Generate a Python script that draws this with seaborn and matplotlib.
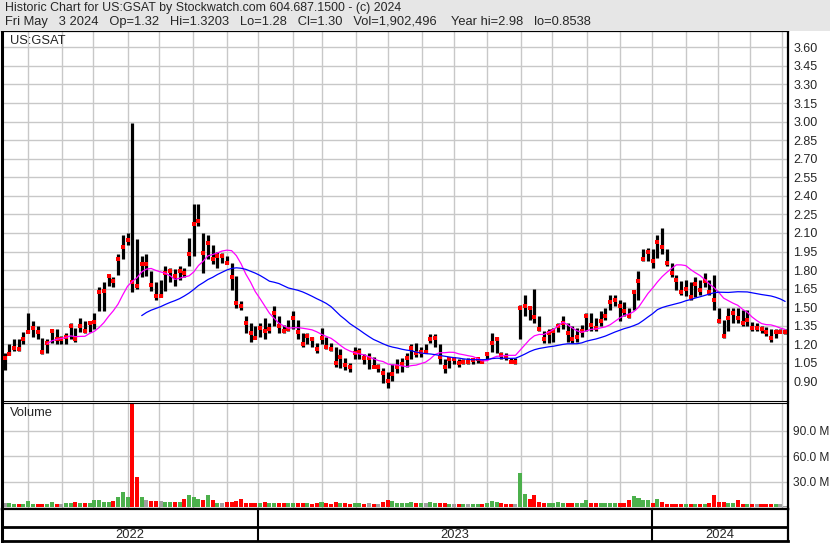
import matplotlib
matplotlib.use("Agg")
import matplotlib.pyplot as plt
from matplotlib.patches import Rectangle
import numpy as np
import pandas as pd
import seaborn as sns

# 3-trading-day bars, May 2022 .. May 3 2024 (prices in US$)
highs = [
    1.13, 1.20, 1.24, 1.24, 1.30, 1.45, 1.39, 1.35, 1.25, 1.24,
    1.32, 1.32, 1.27, 1.29, 1.37, 1.33, 1.41, 1.39, 1.39, 1.45,
    1.66, 1.70, 1.76, 1.74, 1.93, 2.08, 2.10, 2.99, 2.05, 1.91,
    1.93, 1.79, 1.70, 1.72, 1.83, 1.82, 1.81, 1.83, 1.82, 2.06,
    2.33, 2.33, 2.10, 2.08, 2.00, 1.95, 1.94, 1.91, 1.86, 1.75,
    1.55, 1.43, 1.37, 1.35, 1.37, 1.41, 1.37, 1.51, 1.43, 1.36,
    1.40, 1.47, 1.40, 1.29, 1.29, 1.26, 1.21, 1.33, 1.26, 1.21,
    1.18, 1.16, 1.09, 1.05, 1.18, 1.17, 1.12, 1.13, 1.10, 1.04,
    1.01, 0.98, 1.04, 1.08, 1.09, 1.13, 1.20, 1.21, 1.18, 1.20,
    1.28, 1.28, 1.20, 1.08, 1.09, 1.09, 1.08, 1.08, 1.09, 1.09,
    1.09, 1.08, 1.14, 1.29, 1.26, 1.14, 1.13, 1.09, 1.09, 1.52,
    1.60, 1.51, 1.65, 1.43, 1.31, 1.32, 1.33, 1.37, 1.43, 1.37,
    1.35, 1.33, 1.36, 1.45, 1.45, 1.41, 1.47, 1.49, 1.60, 1.60,
    1.56, 1.54, 1.49, 1.64, 1.79, 1.97, 1.98, 1.97, 2.08, 2.14,
    1.97, 1.86, 1.76, 1.71, 1.72, 1.70, 1.74, 1.72, 1.78, 1.72,
    1.76, 1.49, 1.40, 1.49, 1.49, 1.49, 1.48, 1.48, 1.38, 1.37,
    1.35, 1.34, 1.32, 1.32, 1.32, 1.3203,
]
lows = [
    0.99, 1.11, 1.15, 1.15, 1.20, 1.29, 1.26, 1.24, 1.12, 1.13,
    1.21, 1.20, 1.20, 1.20, 1.24, 1.22, 1.30, 1.29, 1.30, 1.32,
    1.47, 1.47, 1.67, 1.66, 1.76, 1.89, 2.00, 1.62, 1.65, 1.74,
    1.75, 1.63, 1.56, 1.58, 1.63, 1.70, 1.67, 1.72, 1.74, 1.83,
    1.91, 2.16, 1.78, 1.89, 1.85, 1.82, 1.86, 1.85, 1.64, 1.49,
    1.48, 1.29, 1.22, 1.24, 1.26, 1.24, 1.29, 1.35, 1.29, 1.29,
    1.31, 1.32, 1.24, 1.18, 1.20, 1.18, 1.13, 1.20, 1.16, 1.15,
    1.02, 1.01, 0.99, 0.98, 1.08, 1.08, 1.04, 1.00, 1.01, 0.98,
    0.89, 0.85, 0.90, 0.97, 0.98, 1.02, 1.08, 1.10, 1.10, 1.13,
    1.21, 1.18, 1.04, 0.97, 1.01, 1.04, 1.02, 1.04, 1.04, 1.04,
    1.05, 1.05, 1.08, 1.14, 1.13, 1.08, 1.07, 1.05, 1.04, 1.24,
    1.43, 1.40, 1.37, 1.31, 1.21, 1.21, 1.22, 1.30, 1.32, 1.22,
    1.21, 1.22, 1.26, 1.31, 1.31, 1.31, 1.35, 1.40, 1.48, 1.51,
    1.39, 1.43, 1.41, 1.48, 1.56, 1.87, 1.87, 1.82, 1.90, 1.93,
    1.83, 1.74, 1.64, 1.60, 1.59, 1.56, 1.58, 1.60, 1.66, 1.60,
    1.48, 1.37, 1.25, 1.31, 1.37, 1.37, 1.35, 1.35, 1.31, 1.31,
    1.29, 1.27, 1.22, 1.25, 1.29, 1.28,
]
closes = [
    1.09, 1.12, 1.17, 1.16, 1.24, 1.30, 1.33, 1.30, 1.14, 1.21,
    1.31, 1.24, 1.24, 1.26, 1.35, 1.24, 1.35, 1.31, 1.37, 1.38,
    1.62, 1.63, 1.75, 1.71, 1.89, 1.99, 2.04, 1.70, 1.67, 1.85,
    1.85, 1.68, 1.59, 1.59, 1.78, 1.79, 1.75, 1.79, 1.78, 1.93,
    2.17, 2.20, 1.94, 2.02, 1.89, 1.91, 1.91, 1.86, 1.74, 1.53,
    1.51, 1.37, 1.29, 1.25, 1.33, 1.31, 1.32, 1.45, 1.35, 1.31,
    1.32, 1.41, 1.30, 1.20, 1.27, 1.24, 1.16, 1.25, 1.18, 1.16,
    1.05, 1.10, 1.03, 1.02, 1.13, 1.14, 1.09, 1.09, 1.02, 1.02,
    0.97, 0.90, 0.96, 1.02, 1.04, 1.09, 1.17, 1.13, 1.14, 1.14,
    1.24, 1.25, 1.10, 1.02, 1.08, 1.08, 1.05, 1.06, 1.06, 1.07,
    1.08, 1.06, 1.12, 1.21, 1.24, 1.11, 1.10, 1.06, 1.06, 1.49,
    1.51, 1.49, 1.42, 1.32, 1.24, 1.29, 1.31, 1.35, 1.37, 1.29,
    1.24, 1.26, 1.31, 1.43, 1.36, 1.33, 1.39, 1.43, 1.54, 1.56,
    1.51, 1.47, 1.43, 1.62, 1.71, 1.89, 1.95, 1.87, 2.03, 1.99,
    1.86, 1.78, 1.72, 1.62, 1.65, 1.58, 1.69, 1.64, 1.71, 1.62,
    1.56, 1.39, 1.27, 1.41, 1.45, 1.41, 1.37, 1.40, 1.33, 1.33,
    1.32, 1.30, 1.25, 1.30, 1.30, 1.30,
]
# average daily volume per bar, millions of shares
volumes = [
    5, 5, 4, 4, 4, 7, 3.5, 3.5, 3.5, 3.5,
    6, 3.5, 3.5, 5, 5, 6, 4.5, 4.5, 4.5, 9,
    8, 6, 6, 7, 12, 18, 12, 125, 35, 12,
    8.5, 7, 7, 7, 6.5, 6, 6, 6, 10, 15,
    12, 10, 8.5, 14, 9, 5.5, 5.5, 6.5, 6.5, 7,
    10, 4.5, 4.5, 4.5, 5.5, 6.5, 4.5, 4.5, 4.5, 4.5,
    5, 4.5, 4.5, 5, 4.5, 4, 5, 6, 4.5, 4,
    6, 5, 4.5, 4, 5.5, 5, 4, 4.5, 4, 4,
    6, 8, 7, 5, 5, 5.5, 6, 5, 4.5, 4.5,
    6, 5, 5, 4.5, 4, 3.5, 3.5, 3.5, 3.5, 3.5,
    3.5, 3.5, 4.5, 7, 6, 4.5, 3.5, 3.5, 3.5, 40,
    16, 10, 14, 6, 4.5, 4.5, 4.5, 6, 4.5, 4.5,
    4.5, 4.5, 4.5, 9, 4.5, 4.5, 4.5, 4.5, 4.5, 4.5,
    4.5, 4.5, 9, 13, 11, 9, 8, 4.5, 10, 6,
    4, 4, 4, 4, 4, 4, 4, 4, 4, 5,
    15, 6, 6, 5, 5, 9, 4, 4, 4, 4,
    3.5, 3.5, 3.5, 3.5, 3.5, 1.9,
]

# month boundaries and year starts, in bar units
month_lines = [5.0, 12.2, 18.8, 26.0, 32.7, 39.9, 47.0, 53.5, 60.9, 67.2,
               74.3, 81.0, 88.3, 94.9, 101.9, 109.2, 115.7, 123.1, 130.0,
               136.8, 144.0, 150.8, 157.5, 164.3]
year_labels = ["2022", "2023", "2024"]
year_starts = [53.5, 136.8]

header1 = "Historic Chart for US:GSAT by Stockwatch.com 604.687.1500 - (c) 2024"
header2 = ("Fri May   3 2024   Op=1.32   Hi=1.3203   Lo=1.28   Cl=1.30   "
           "Vol=1,902,496    Year hi=2.98   lo=0.8538")

df = pd.DataFrame({"bar": np.arange(len(closes)), "high": highs, "low": lows,
                   "close": closes, "volume": volumes})
df["ma30"] = df["close"].rolling(10).mean()
df["ma90"] = df["close"].rolling(30).mean()
chg = df["close"].diff().fillna(0)
df["dir"] = np.where(chg > 0, "up", np.where(chg < 0, "down", "flat"))

sns.set_style("white")
plt.rcParams["font.family"] = ["Liberation Sans", "DejaVu Sans"]

W, H = 830, 543
fig = plt.figure(figsize=(W / 100, H / 100), dpi=100)


def rect(x0, y0, x1, y1):
    return [x0 / W, 1 - y1 / H, (x1 - x0) / W, (y1 - y0) / H]


fig.patches.append(Rectangle((0, 1 - 31 / H), 1, 31 / H, transform=fig.transFigure,
                             facecolor="#E6E6E6", edgecolor="none", zorder=0))
fig.text(5 / W, 1 - 8 / H, header1, fontsize=8.9, va="center", ha="left")
fig.text(5 / W, 1 - 22 / H, header2, fontsize=9.3, va="center", ha="left")

xlim = (-0.53, 165.6)
grid_kw = dict(color="#C8C8C8", lw=1.0)

# price panel
ax = fig.add_axes(rect(2, 31, 788, 400.5))
ax.set_xlim(*xlim)
ax.set_ylim(0.746, 3.732)
ax.set_xticks(month_lines)
ax.set_xticklabels([])
ax.set_yticks(np.round(np.arange(0.90, 3.61, 0.15), 2))
ax.yaxis.tick_right()
ax.set_yticklabels([f"{v:.2f}" for v in ax.get_yticks()], fontsize=9)
ax.tick_params(length=0, pad=4)
ax.grid(True, **grid_kw)
ax.set_axisbelow(True)
ax.vlines(df["bar"], df["low"], df["high"], color="black", lw=2.3, zorder=3)
sns.scatterplot(data=df, x="bar", y="close", color="red", marker="s", s=5,
                linewidth=0, ax=ax, zorder=4)
sns.lineplot(data=df, x="bar", y="ma30", color="#FF00FF", lw=0.9, ax=ax, zorder=5)
sns.lineplot(data=df, x="bar", y="ma90", color="#0000FF", lw=0.9, ax=ax, zorder=5)
ax.set_xlabel("")
ax.set_ylabel("")
ax.text(8 / 786, 1 - 10 / 369.5, "US:GSAT", transform=ax.transAxes,
        fontsize=9.3, va="center", ha="left")

# volume panel
axv = fig.add_axes(rect(2, 402.5, 788, 509))
sns.barplot(data=df, x="bar", y="volume", hue="dir", native_scale=True,
            dodge=False, width=0.85, errorbar=None, legend=False, saturation=1,
            palette={"up": "#4CB04C", "down": "#FF0000", "flat": "#A0A0A0"},
            linewidth=0, ax=axv)
axv.set_xlim(*xlim)
axv.set_ylim(-2, 123)
axv.set_xticks(month_lines)
axv.set_xticklabels([])
axv.set_yticks([30, 60, 90])
axv.yaxis.tick_right()
axv.set_yticklabels(["30.0 M", "60.0 M", "90.0 M"], fontsize=8.6)
axv.tick_params(length=0, pad=3.5)
axv.grid(True, **grid_kw)
axv.set_axisbelow(True)
axv.set_xlabel("")
axv.set_ylabel("")
axv.text(8 / 786, 1 - 11 / 106.5, "Volume", transform=axv.transAxes,
         fontsize=9.3, va="center", ha="left")

# year strip
axt = fig.add_axes(rect(2, 509, 788, 541))
axt.set_xlim(*xlim)
axt.set_ylim(0, 1)
axt.set_xticks([])
axt.set_yticks([])
axt.axhline(14.5 / 32, color="black", lw=2)
axt.vlines(year_starts, 0, 1, color="black", lw=1.5)
bounds = [xlim[0]] + year_starts + [xlim[1]]
for lab, a, b in zip(year_labels, bounds[:-1], bounds[1:]):
    axt.text((a + b) / 2, 0.2, lab, ha="center", va="center", fontsize=9.3)

for a, lw in ((ax, (2.2, 1.6, 1.6, 0.8)), (axv, (2.2, 1.6, 0.8, 1.6)),
              (axt, (2.2, 1.6, 1.6, 2.0))):
    a.spines["left"].set_linewidth(lw[0])
    a.spines["right"].set_linewidth(lw[1])
    a.spines["top"].set_linewidth(lw[2])
    a.spines["bottom"].set_linewidth(lw[3])
    for s in a.spines.values():
        s.set_color("black")
        s.set_visible(True)

fig.savefig("out.png", dpi=100)
